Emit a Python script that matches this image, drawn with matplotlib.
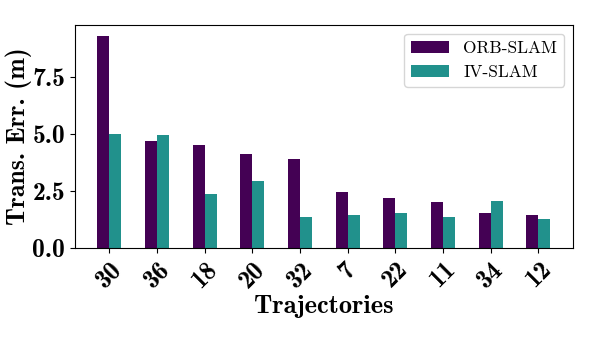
import matplotlib.pyplot as plt
import numpy as np

trajectories = ["30", "36", "18", "20", "32", "7", "22", "11", "34", "12"]
orb_slam = [9.31, 4.67, 4.50, 4.10, 3.90, 2.45, 2.20, 2.01, 1.55, 1.45]
iv_slam = [5.01, 4.95, 2.37, 2.94, 1.36, 1.45, 1.52, 1.36, 2.05, 1.29]

plt.rcParams['font.family'] = ['cmb10']
plt.rcParams['axes.unicode_minus'] = False

fig = plt.figure(figsize=(5.98, 3.42), dpi=100)
ax = fig.add_axes([0.125, 0.275, 0.833, 0.652])

x = np.arange(len(trajectories))
w = 0.25
ax.bar(x - w / 2, orb_slam, w, color="#440154", label="ORB-SLAM")
ax.bar(x + w / 2, iv_slam, w, color="#21918c", label="IV-SLAM")

ax.set_yticks([0, 2.5, 5.0, 7.5])
ax.set_yticklabels(["0.0", "2.5", "5.0", "7.5"], fontsize=18.5)
ax.set_xticks(x)
ax.set_xticklabels(trajectories, rotation=45, fontsize=18.5)
ax.set_ylabel("Trans. Err. (m)", fontsize=18.5, labelpad=0)
ax.set_xlabel("Trajectories", fontsize=19, labelpad=2)

leg = ax.legend(loc="upper right", prop={'family': 'cmr10', 'size': 12.5},
                handlelength=2.2)

plt.savefig("out.png", dpi=100)
